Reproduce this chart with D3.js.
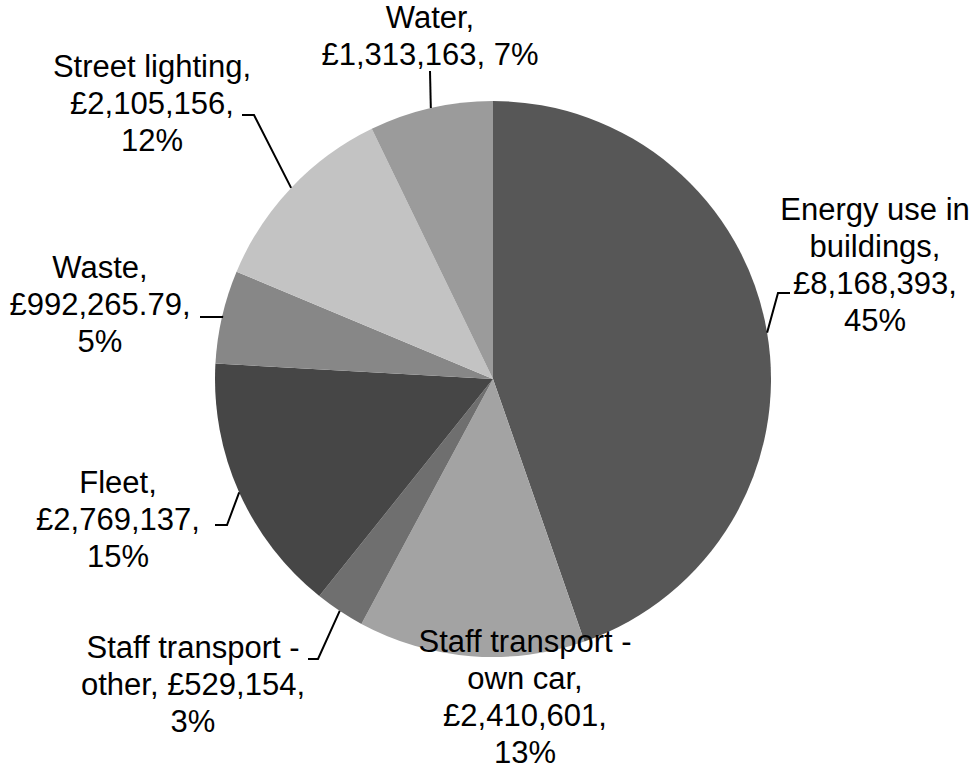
<!DOCTYPE html>
<html>
<head>
<meta charset="utf-8">
<script src="https://cdn.jsdelivr.net/npm/d3@7"></script>
<style>
  body { margin: 0; background: #fff; }
  text { font-family: 'Liberation Sans', Arial, sans-serif; }
</style>
</head>
<body>
<div id="chart"></div>
<script>
const categories = [
  'Energy use in buildings',
  'Staff transport - own car',
  'Staff transport - other',
  'Fleet',
  'Waste',
  'Street lighting',
  'Water',
]
const values = [8168393, 2410601, 529154, 2769137, 992265.79, 2105156, 1313163]
const valueLabels = [
  '£8,168,393',
  '£2,410,601',
  '£529,154',
  '£2,769,137',
  '£992,265.79',
  '£2,105,156',
  '£1,313,163',
]
const colors = ['#575757', '#a3a3a3', '#6f6f6f', '#464646', '#878787', '#c3c3c3', '#9b9b9b']

// label layout, the way the original wrapped and placed them
const labelLines = [
  ['Energy use in', 'buildings,', '£8,168,393,', '45%'],
  ['Staff transport -', 'own car,', '£2,410,601,', '13%'],
  ['Staff transport -', 'other, £529,154,', '3%'],
  ['Fleet,', '£2,769,137,', '15%'],
  ['Waste,', '£992,265.79,', '5%'],
  ['Street lighting,', '£2,105,156,', '12%'],
  ['Water,', '£1,313,163, 7%'],
]
// cx, first baseline, leader: [elbow x, elbow y, end x] (null = no leader)
const labelPos = [
  { x: 875, y: 220, leader: [778, 293, 790] },
  { x: 525, y: 652, leader: null },
  { x: 193, y: 658, leader: [318, 659, 308] },
  { x: 118, y: 493, leader: [227, 525, 215] },
  { x: 100, y: 278, leader: [223, 317, 200] },
  { x: 152, y: 77, leader: [254, 115, 242] },
  { x: 430, y: 28, leader: [430, 71, 430] },
]

const width = 979
const height = 769
const cx = 493
const cy = 379
const radius = 278
const fontSize = 31
const lineHeight = 37

const svg = d3
  .select('#chart')
  .append('svg')
  .attr('width', width)
  .attr('height', height)

const data = categories.map((c, i) => ({ name: c, value: values[i], label: valueLabels[i], i }))

const pie = d3.pie().sort(null).value(d => d.value)
const arcs = pie(data)
const arc = d3.arc().innerRadius(0).outerRadius(radius)

const g = svg.append('g').attr('transform', `translate(${cx}, ${cy})`)

g.selectAll('path.slice')
  .data(arcs)
  .join('path')
  .attr('class', 'slice')
  .attr('d', arc)
  .attr('fill', d => colors[d.data.i])

// leader lines from the slice edge midpoint
const leaders = svg.append('g').attr('class', 'leaders')
arcs.forEach((a, i) => {
  const lp = labelPos[i]
  if (!lp.leader) return
  const mid = (a.startAngle + a.endAngle) / 2
  const px = cx + Math.sin(mid) * radius
  const py = cy - Math.cos(mid) * radius
  const [ex, ey, hx] = lp.leader
  leaders
    .append('path')
    .attr('d', d3.line()([[px, py], [ex, ey], [hx, ey]]))
    .attr('fill', 'none')
    .attr('stroke', '#000')
    .attr('stroke-width', 2)
})

const labels = svg.append('g').attr('class', 'labels')
labelLines.forEach((lines, i) => {
  const lp = labelPos[i]
  const t = labels
    .append('text')
    .attr('text-anchor', 'middle')
    .attr('font-size', fontSize)
    .attr('fill', '#000')
  lines.forEach((ln, j) => {
    t.append('tspan')
      .attr('x', lp.x)
      .attr('y', lp.y + j * lineHeight)
      .text(ln)
  })
})
</script>
</body>
</html>
